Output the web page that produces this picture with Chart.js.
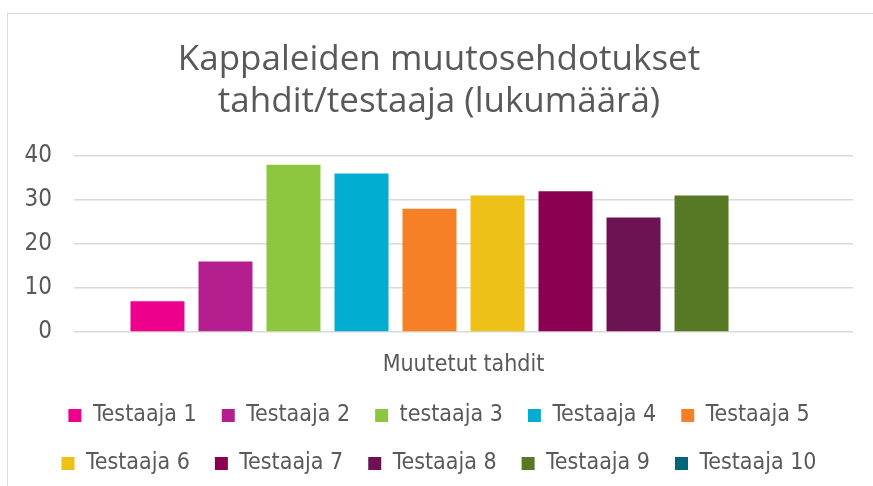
<!DOCTYPE html>
<html>
<head>
<meta charset="utf-8">
<script src="https://cdn.jsdelivr.net/npm/chart.js@4"></script>
<style>
  html, body { margin: 0; padding: 0; background: #fff; overflow: hidden; }
  #frame { position: absolute; left: 7px; top: 13px; width: 900px; height: 500px; border: 1px solid #d9d9d9; }
  #wrap { position: absolute; left: 0; top: 0; width: 873px; height: 486px; }
</style>
</head>
<body>
<div id="frame"></div>
<div id="wrap"><canvas id="chart"></canvas></div>
<script>
// Chart data
const categories = ['Muutetut tahdit'];
const testers = ['Testaaja 1', 'Testaaja 2', 'testaaja 3', 'Testaaja 4', 'Testaaja 5',
                 'Testaaja 6', 'Testaaja 7', 'Testaaja 8', 'Testaaja 9', 'Testaaja 10'];
const counts = [7, 16, 38, 36, 28, 31, 32, 26, 31, 0];
const colors = ['#ec008c', '#b41e8e', '#8dc63f', '#00add0', '#f58025',
                '#edc118', '#8b0051', '#6d1253', '#577926', '#00677a'];
const yTicks = [0, 10, 20, 30, 40];

const textColor = '#595959';
const tickFont = "'DejaVu Sans Condensed', 'DejaVu Sans', sans-serif";

const datasets = testers.map((name, i) => ({
    label: name,
    data: [counts[i]],
    backgroundColor: colors[i],
    borderWidth: 0,
    categoryPercentage: 0.873,
    barPercentage: 0.794
}));

new Chart(document.getElementById('chart'), {
    type: 'bar',
    data: { labels: categories, datasets: datasets },
    options: {
        responsive: true,
        maintainAspectRatio: false,
        animation: false,
        layout: { padding: { left: 25, right: 20, top: 0, bottom: 1 } },
        plugins: {
            title: {
                display: true,
                text: ['Kappaleiden muutosehdotukset', 'tahdit/testaaja (lukumäärä)'],
                color: textColor,
                font: { family: "'Open Sans', sans-serif", size: 35, weight: 'normal', lineHeight: 1.2 },
                padding: { top: 39, bottom: 33 }
            },
            legend: {
                position: 'bottom',
                labels: {
                    color: textColor,
                    font: { family: tickFont, size: 23 },
                    boxWidth: 13,
                    boxHeight: 13,
                    padding: 25
                }
            },
            tooltip: { enabled: false }
        },
        scales: {
            x: {
                grid: { display: false, drawTicks: false },
                border: { display: false },
                ticks: { color: textColor, font: { family: tickFont, size: 23 }, padding: 19 },
                afterFit: axis => { axis.height = 47; axis.paddingLeft = 0; axis.paddingRight = 0; }
            },
            y: {
                min: 0,
                max: 40,
                afterBuildTicks: axis => { axis.ticks = yTicks.map(v => ({ value: v })); },
                grid: { color: '#d9d9d9', lineWidth: 1.5, drawTicks: false },
                border: { display: false },
                ticks: { color: textColor, font: { family: tickFont, size: 24 }, padding: 22 },
                afterFit: axis => { axis.width = 49; }
            }
        }
    }
});
</script>
</body>
</html>
